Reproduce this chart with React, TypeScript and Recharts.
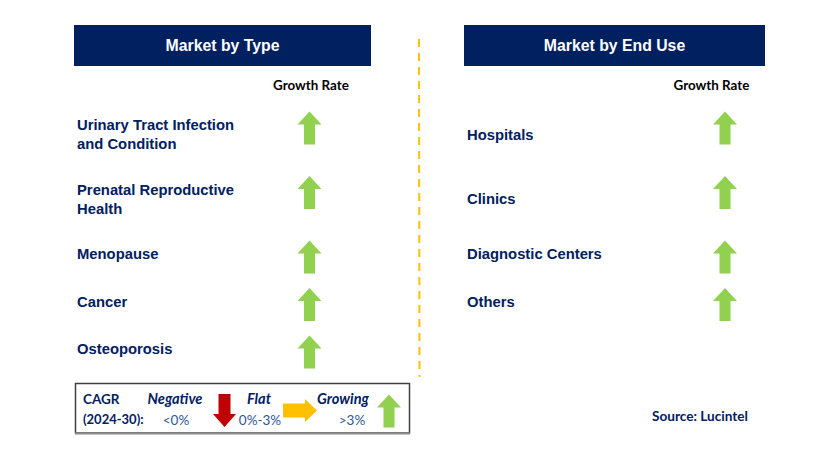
import { ScatterChart, Scatter, XAxis, YAxis } from "recharts";

const NAVY = "#002060";
const GREEN = "#92D050";
const RED = "#C00000";
const AMBER = "#FFC000";

// segments + growth class for each panel
const typeSegments = [
  "Urinary Tract Infection\nand Condition",
  "Prenatal Reproductive\nHealth",
  "Menopause",
  "Cancer",
  "Osteoporosis",
];
const typeGrowth = ["growing", "growing", "growing", "growing", "growing"];

const endUseSegments = ["Hospitals", "Clinics", "Diagnostic Centers", "Others"];
const endUseGrowth = ["growing", "growing", "growing", "growing"];

const cagrClasses = ["Negative", "Flat", "Growing"];
const cagrRanges = ["<0%", "0%-3%", ">3%"];
const cagrGrowth = ["negative", "flat", "growing"];
const cagrPeriod = "(2024-30):";

const LABEL_FONT = "'Liberation Sans', Arial, sans-serif";
const SMALL_FONT = "Lato, 'Open Sans', sans-serif";
const LINE_H = 19;
const ROW_GAP = 47.5;

// row slots: a two-line label pushes the next row down
const typeLines = typeSegments.map((s) => s.split("\n").length);
const slots: number[] = [];
let acc = 0;
typeLines.forEach((n) => {
  slots.push(acc);
  acc += ROW_GAP + (n - 1) * 17;
});
const lastSlot = slots[slots.length - 1];

const typeData = typeSegments.map((label, i) => ({
  col: "Growth Rate",
  slot: slots[i],
  label,
  growth: typeGrowth[i],
  shift: 0,
}));

const endUseData = endUseSegments.map((label, i) => ({
  col: "Growth Rate",
  slot: slots[i],
  label,
  growth: endUseGrowth[i],
  shift: ((typeLines[i] - 1) * LINE_H) / 2,
}));

const ARROWS: Record<string, { dir: string; color: string; len: number; headW: number; headL: number; shaftW: number }> = {
  growing: { dir: "up", color: GREEN, len: 33, headW: 24, headL: 13, shaftW: 11 },
  negative: { dir: "down", color: RED, len: 33, headW: 23, headL: 13, shaftW: 12 },
  flat: { dir: "right", color: AMBER, len: 34, headW: 23, headL: 12, shaftW: 14 },
};

function arrowPoints(cx: number, cy: number, kind: string) {
  const a = ARROWS[kind];
  const h = a.len / 2;
  // drawn pointing up, then rotated
  const pts = [
    [0, -h],
    [a.headW / 2, -h + a.headL],
    [a.shaftW / 2, -h + a.headL],
    [a.shaftW / 2, h],
    [-a.shaftW / 2, h],
    [-a.shaftW / 2, -h + a.headL],
    [-a.headW / 2, -h + a.headL],
  ];
  return pts
    .map(([px, py]) => {
      let x = px;
      let y = py;
      if (a.dir === "down") y = -py;
      if (a.dir === "right") {
        x = -py;
        y = px;
      }
      return `${cx + x},${cy + y}`;
    })
    .join(" ");
}

const renderArrow = (props: any) => {
  const { cx, cy, payload } = props;
  if (cx == null || cy == null) return <g />;
  return <polygon points={arrowPoints(cx, cy + 3, payload.growth)} fill={ARROWS[payload.growth].color} />;
};

const SegmentTick = (props: any) => {
  const { y, payload, rows, labelX } = props;
  const row = rows.find((r: any) => Math.abs(r.slot - payload.value) < 0.01);
  if (!row) return <g />;
  const lines = row.label.split("\n");
  return (
    <g>
      {lines.map((ln: string, k: number) => (
        <text
          key={k}
          x={labelX}
          y={y + row.shift + k * LINE_H}
          dominantBaseline="central"
          fontFamily={LABEL_FONT}
          fontWeight={700}
          fontSize={14.8}
          fill={NAVY}
        >
          {ln}
        </text>
      ))}
    </g>
  );
};

const HeadTick = (props: any) => {
  const { x, y, payload, dx } = props;
  return (
    <text
      x={x + dx}
      y={y}
      textAnchor="middle"
      dominantBaseline="central"
      fontFamily={SMALL_FONT}
      fontWeight={700}
      fontSize={13.4}
      fill="#000"
    >
      {payload.value}
    </text>
  );
};

function Panel({ data, labelX, headDx, right }: any) {
  return (
    <ScatterChart
      width={415}
      height={460}
      margin={{ top: 85, right, bottom: 111, left: 0 }}
    >
      <XAxis
        type="category"
        dataKey="col"
        orientation="top"
        allowDuplicatedCategory={false}
        height={40}
        tickSize={0}
        tickMargin={40}
        axisLine={false}
        tickLine={false}
        tick={<HeadTick dx={headDx} />}
      />
      <YAxis
        type="number"
        dataKey="slot"
        domain={[0, lastSlot]}
        reversed
        ticks={data.map((d: any) => d.slot)}
        interval={0}
        width={250}
        tickSize={0}
        axisLine={false}
        tickLine={false}
        tick={<SegmentTick rows={data} labelX={labelX} />}
      />
      <Scatter data={data} dataKey="slot" shape={renderArrow} isAnimationActive={false} />
    </ScatterChart>
  );
}

export default function App() {
  const legendX = [175, 259, 343];
  const rangeX = [176, 260, 352];
  const legendArrows = [
    { x: 224.5, y: 410.5 },
    { x: 300, y: 410.5 },
    { x: 389, y: 411 },
  ];
  return (
    <div
      style={{
        position: "absolute",
        left: 0,
        top: 0,
        width: 829,
        height: 460,
        background: "#fff",
        overflow: "hidden",
      }}
    >
      <svg width={829} height={460} style={{ position: "absolute", left: 0, top: 0 }}>
        <rect x={74} y={25} width={297} height={41} fill={NAVY} />
        <text x={222.5} y={45.5} textAnchor="middle" dominantBaseline="central" fill="#fff" fontFamily={LABEL_FONT} fontWeight={700} fontSize={15.8}>
          Market by Type
        </text>
        <rect x={464} y={25} width={301} height={41} fill={NAVY} />
        <text x={614.5} y={45.5} textAnchor="middle" dominantBaseline="central" fill="#fff" fontFamily={LABEL_FONT} fontWeight={700} fontSize={15.8}>
          Market by End Use
        </text>

        <line x1={419} y1={39} x2={419.5} y2={377} stroke={AMBER} strokeWidth={2} strokeDasharray="8 6" />

        {/* CAGR legend */}
        <rect x={75.5} y={383.5} width={334} height={49.5} fill="none" stroke="#404040" strokeWidth={1.5} />
        <line x1={75} y1={433.5} x2={410} y2={433.5} stroke="#8c8c8c" strokeWidth={2} />
        <text x={83} y={399} dominantBaseline="central" fontFamily={SMALL_FONT} fontWeight={700} fontSize={13.5} fill={NAVY}>
          CAGR
        </text>
        <text x={83} y={419} dominantBaseline="central" fontFamily={SMALL_FONT} fontWeight={700} fontSize={13} fill={NAVY}>
          {cagrPeriod}
        </text>
        {cagrClasses.map((c, i) => (
          <g key={c}>
            <text x={legendX[i]} y={398} textAnchor="middle" dominantBaseline="central" fontFamily={SMALL_FONT} fontWeight={700} fontStyle="italic" fontSize={14.6} fill={NAVY}>
              {c}
            </text>
            <text x={rangeX[i]} y={420} textAnchor="middle" dominantBaseline="central" fontFamily={SMALL_FONT} fontSize={13.5} fill="#2F5597">
              {cagrRanges[i]}
            </text>
            <polygon points={arrowPoints(legendArrows[i].x, legendArrows[i].y, cagrGrowth[i])} fill={ARROWS[cagrGrowth[i]].color} />
          </g>
        ))}

        <text x={748} y={416} textAnchor="end" dominantBaseline="central" fontFamily={SMALL_FONT} fontWeight={700} fontSize={13.6} fill={NAVY}>
          Source: Lucintel
        </text>
      </svg>

      <div style={{ position: "absolute", left: 0, top: 0 }}>
        <Panel data={typeData} labelX={77} headDx={1.5} right={46} />
      </div>
      <div style={{ position: "absolute", left: 415, top: 0 }}>
        <Panel data={endUseData} labelX={52} headDx={-13.5} right={45} />
      </div>
    </div>
  );
}
